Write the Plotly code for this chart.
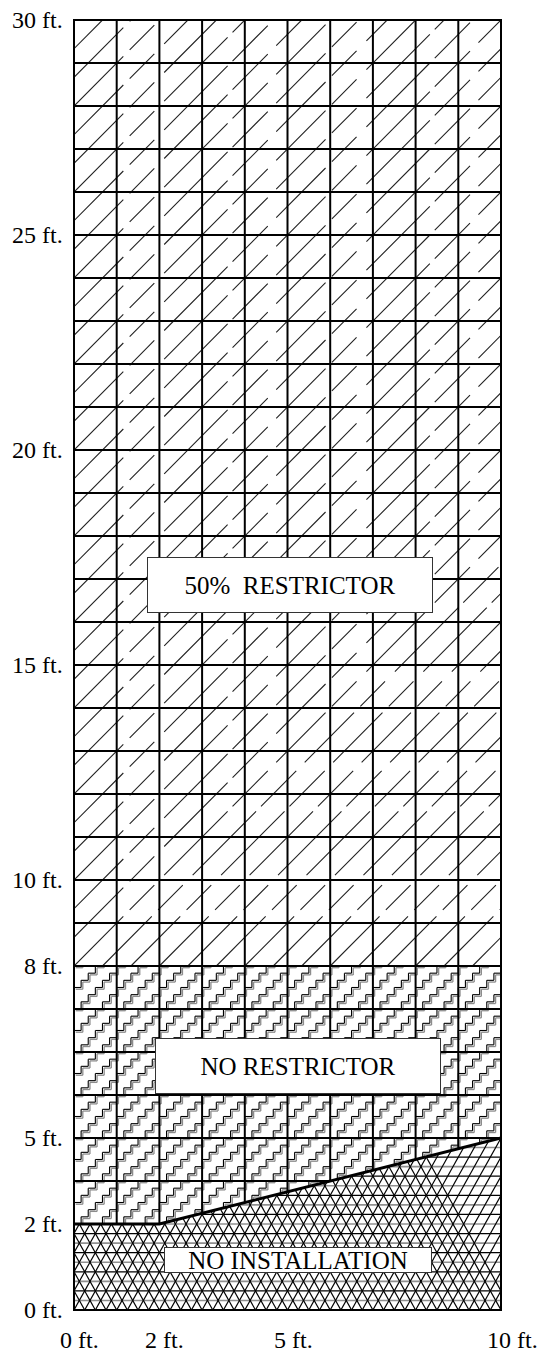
import numpy as np
import plotly.graph_objects as go

# ---- data ----
x_ticks = [0, 2, 5, 10]
x_tick_labels = ["0 ft.", "2 ft.", "5 ft.", "10 ft."]
y_ticks = [0, 2, 4, 8, 10, 15, 20, 25, 30]
y_tick_labels = ["0 ft.", "2 ft.", "5 ft.", "8 ft.", "10 ft.", "15 ft.", "20 ft.", "25 ft.", "30 ft."]
boundary_x = [0, 2, 10]          # no-installation upper boundary
boundary_y = [2, 2, 4]
restrictor_limit = 8            # no restrictor / 50% restrictor limit
x_range = [0, 10]
y_range = [0, 30]
zone_labels = ["50%\u00a0 RESTRICTOR", "NO RESTRICTOR", "NO INSTALLATION"]
zone_label_x = [5.06, 5.25, 5.25]
zone_label_y = [16.85, 5.67, 1.17]
zone_box_w = [282, 282, 264]
zone_box_h = [52, 52, 22]

FONT = "'Liberation Serif', 'Times New Roman', Times, serif"
X0, X1 = x_range
Y0, Y1 = y_range


def bnd(x):
    return float(np.interp(x, boundary_x, boundary_y))


def xmax_above(c):
    # largest x where boundary(x) <= c
    if c < boundary_y[0]:
        return None
    if c >= boundary_y[-1]:
        return X1
    return float(np.interp(c, boundary_y[1:], boundary_x[1:]))


def seg_trace(segs, color, width, dash=None):
    xs, ys = [], []
    for (xa, ya, xb, yb) in segs:
        xs += [xa, xb, None]
        ys += [ya, yb, None]
    return go.Scatter(x=xs, y=ys, mode="lines", hoverinfo="skip", showlegend=False,
                      line=dict(color=color, width=width, dash=dash))


fig = go.Figure()

# ---- triangle lattice (no installation), drawn over a rectangle, later masked ----
top_l = boundary_y[-1]
h = 2 / 9
w = 0.25
m = 2 * h / w
lat_black, lat_grey = [], []
nk = int(round(top_l / h))
for k in range(nk + 1):
    yk = k * h
    (lat_black if k % 2 == 0 else lat_grey).append((X0, yk, X1, yk))
jmin = int(np.floor(-top_l / m / w)) - 1
jmax = int(np.ceil(X1 / w)) + 1
for j in range(jmin, jmax + 1):
    x0 = j * w
    xa, xb = max(X0, x0), min(X1, x0 + top_l / m)
    if xb > xa:
        lat_black.append((xa, m * (xa - x0), xb, m * (xb - x0)))
    xa, xb = max(X0, x0 - top_l / m), min(X1, x0)
    if xb > xa:
        lat_black.append((xa, m * (x0 - xa), xb, m * (x0 - xb)))
fig.add_trace(seg_trace(lat_grey, "#909090", 1.6))
fig.add_trace(seg_trace(lat_black, "black", 1.2))

# ---- white mask for the no-restrictor zone ----
mx = boundary_x + [X1, X0]
my = boundary_y + [restrictor_limit, restrictor_limit]
fig.add_trace(go.Scatter(x=mx, y=my, fill="toself", fillcolor="white", mode="none",
                         hoverinfo="skip", showlegend=False))

# ---- stair pattern (no restrictor zone) ----
s = 1 / 6
per = 3


def stair_segments(dx, dy):
    segs = []
    for k in range(-30, 20):
        for i in range(0, 62):
            yc = (per * k + i) * s + dy
            xa, xb = i * s + dx, (i + 1) * s + dx
            if boundary_y[0] < yc <= restrictor_limit:
                xm = xmax_above(yc)
                a, b = max(X0, xa), min(X1, xb, xm)
                if b > a:
                    segs.append((a, yc, b, yc))
            xv = xb
            if X0 <= xv <= X1:
                ya, yb = yc, yc + s
                a, b = max(ya, bnd(xv)), min(yb, restrictor_limit)
                if b > a:
                    segs.append((xv, a, xv, b))
    return segs


fig.add_trace(seg_trace(stair_segments(0.04, -0.04), "#8c8c8c", 1.3))
fig.add_trace(seg_trace(stair_segments(0.0, 0.0), "black", 1.1))

# ---- diagonal hatch (50% restrictor zone) ----
diag = []
sp = 2 / 3
b = restrictor_limit - X1
while b < Y1:
    xa = max(X0, restrictor_limit - b)
    xb = min(X1, Y1 - b)
    if xb > xa:
        diag.append((xa, xa + b, xb, xb + b))
    b += sp
fig.add_trace(seg_trace(diag, "#222222", 1.1, dash="70px,9px,35px,14px,90px,7px,50px,12px"))

# ---- grid lines (only above the no-installation boundary) ----
grid = []
for xv in range(X0 + 1, X1):
    grid.append((xv, bnd(xv), xv, Y1))
for yv in range(int(boundary_y[0]) + 1, Y1):
    xm = xmax_above(yv)
    if xm is not None and xm > X0:
        grid.append((X0, yv, xm, yv))
fig.add_trace(seg_trace(grid, "black", 2))

# ---- boundary line ----
fig.add_trace(go.Scatter(x=boundary_x, y=boundary_y, mode="lines", hoverinfo="skip",
                         showlegend=False, line=dict(color="black", width=3)))

# ---- frame ----
fig.add_shape(type="rect", xref="paper", yref="paper", x0=0, x1=1, y0=0, y1=1,
              line=dict(color="black", width=2), layer="above")

# ---- zone labels ----
for txt, lx, ly, bw, bh in zip(zone_labels, zone_label_x, zone_label_y, zone_box_w, zone_box_h):
    fig.add_annotation(x=lx, y=ly, xref="x", yref="y", text=txt, showarrow=False,
                       font=dict(family=FONT, size=25, color="black"),
                       bgcolor="white", bordercolor="#333333", borderwidth=1, borderpad=1,
                       width=bw, height=bh, align="center", valign="middle")

# ---- tick labels ----
for v, t in zip(y_ticks, y_tick_labels):
    fig.add_annotation(x=0, xref="paper", y=v, yref="y", text=t, showarrow=False,
                       xanchor="right", yanchor="middle", xshift=-10, borderpad=0,
                       font=dict(family=FONT, size=24, color="black"))
for v, t in zip(x_ticks, x_tick_labels):
    fig.add_annotation(x=v, xref="x", y=0, yref="paper", text=t, showarrow=False,
                       xanchor="left", yanchor="middle", xshift=-15, yshift=-30, borderpad=0,
                       font=dict(family=FONT, size=24, color="black"))

fig.update_xaxes(range=x_range, showgrid=False, zeroline=False, showticklabels=False,
                 ticks="", showline=False, fixedrange=True)
fig.update_yaxes(range=y_range, showgrid=False, zeroline=False, showticklabels=False,
                 ticks="", showline=False, fixedrange=True)
fig.update_layout(width=540, height=1355, margin=dict(l=74, r=39, t=20, b=45),
                  plot_bgcolor="white", paper_bgcolor="white", showlegend=False,
                  font=dict(family=FONT))

fig.write_html("out.html", config={"displayModeBar": False},
               post_script="document.body.style.margin='0';document.body.style.overflow='hidden';")
